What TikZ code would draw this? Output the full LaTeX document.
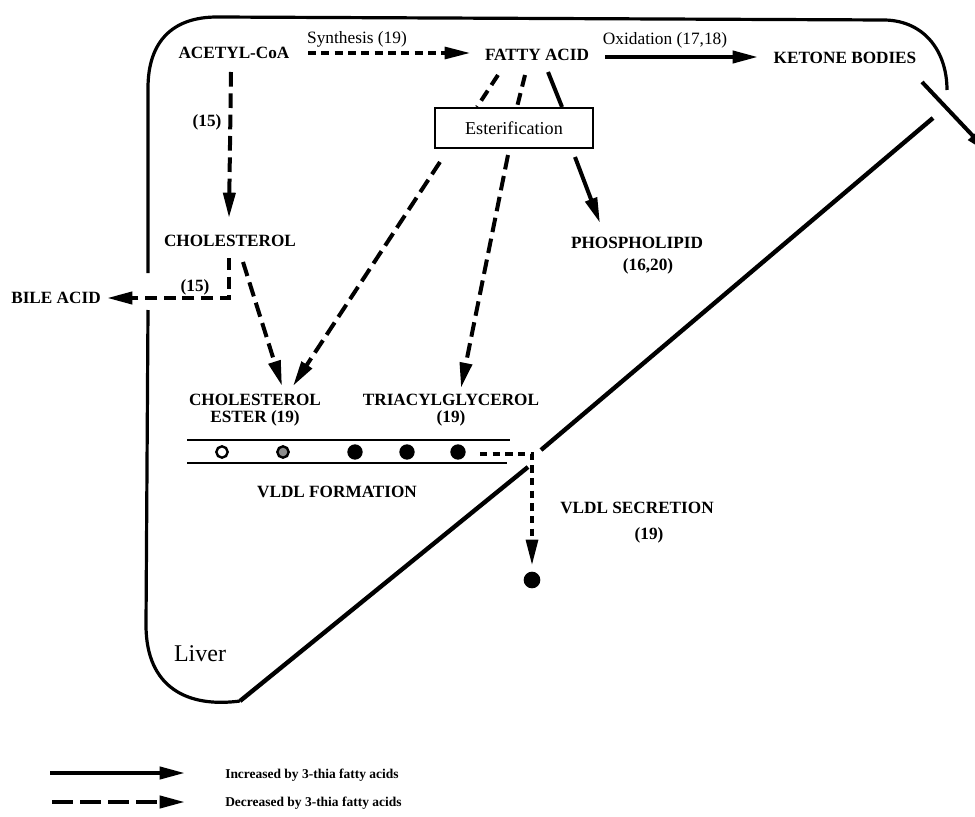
\documentclass[tikz,border=0pt]{standalone}
\usepackage{fontspec}
\setmainfont{Liberation Serif}
\usetikzlibrary{arrows.meta,calc}
\begin{document}
\begin{tikzpicture}[x=0.75pt,y=-0.75pt,
  lab/.style={font=\bfseries\fontsize{12.9}{12.75}\selectfont,inner sep=0pt},
  reg/.style={font=\fontsize{13}{13}\selectfont,inner sep=0pt},
  leg/.style={font=\bfseries\fontsize{10.1}{11}\selectfont,inner sep=0pt,anchor=west},
  outline/.style={line width=2.4pt},
  diag/.style={line width=3.3pt},
  tip/.style={-{Triangle[length=19pt,width=9pt]}},
  inc/.style={line width=3pt,tip},
  incline/.style={line width=3pt},
  dec/.style={line width=3pt,dash pattern=on 11pt off 5pt,tip},
  decline/.style={line width=3pt,dash pattern=on 9pt off 5pt},
  fine/.style={line width=2.3pt,dash pattern=on 6pt off 4pt,tip},
  vd/.style={line width=2.3pt,dash pattern=on 5.5pt off 4pt,tip},
  blob/.style={circle,fill=black,inner sep=0pt,minimum size=11.5pt}
]
\useasboundingbox (0,0) rectangle (975,817);

% liver outline
\draw[outline] (148,273) -- (148,88) .. controls (148,42) and (172,17) .. (217,17)
   -- (885,20) .. controls (925,21) and (947,52) .. (947,90);
\draw[outline] (148,310) -- (146,625) .. controls (146,688) and (188,708) .. (240,701);
\draw[diag] (240,701) -- (528,467);
\draw[diag] (541,450) -- (933,118);

% nodes
\node[lab] (acetyl) at (234,53) {ACETYL-CoA};
\node[reg] (synth) at (357,39) {Synthesis (19)};
\node[lab] (fatty) at (537,55) {FATTY ACID};
\node[reg] (oxid) at (665,40) {Oxidation (17,18)};
\node[lab] (ketone) at (845,58) {KETONE BODIES};
\node[draw,line width=1.6pt,minimum width=118pt,minimum height=30.5pt,font=\fontsize{13.6}{14}\selectfont,inner sep=0pt] (ester) at (514,128) {Esterification};
\node[lab] (l15a) at (207,122) {(15)};
\node[lab] (chol) at (230,241) {CHOLESTEROL};
\node[lab] (l15b) at (195,287) {(15)};
\node[lab] (bile) at (56,298) {BILE ACID};
\node[lab] (phos) at (637,243) {PHOSPHOLIPID};
\node[lab] (phosr) at (648,266) {(16,20)};
\node[lab,align=center] (cester) at (255,410) {CHOLESTEROL\\ESTER (19)};
\node[lab,align=center] (tag) at (451,410) {TRIACYLGLYCEROL\\(19)};
\node[lab] (vform) at (337,492) {VLDL FORMATION};
\node[lab] (vsec) at (637,508) {VLDL SECRETION};
\node[lab] (vsecr) at (649,535) {(19)};
\node[font=\fontsize{18}{20}\selectfont,inner sep=0pt] (liver) at (200,654) {Liver};

% VLDL formation particles
\draw[line width=1.8pt] (187,440) -- (510,440);
\draw[line width=1.8pt] (187,463) -- (507,463);
\node[circle,draw,line width=1.8pt,inner sep=0pt,minimum size=8.5pt] (p1) at (222,452) {};
\node[circle,draw,line width=1.8pt,fill=black!45,inner sep=0pt,minimum size=8.5pt] (p2) at (283,452) {};
\node[blob] (p3) at (355,452) {};
\node[blob] (p4) at (407,452) {};
\node[blob] (p5) at (458,452) {};
\node[blob,minimum size=12.5pt] (vdot) at (532,580) {};

% connectors
\draw[fine] ($(acetyl)+(74,0)$) -- ($(fatty)+(-67,-2)$);
\draw[inc] ($(fatty)+(68,2)$) -- ($(ketone)+(-87,-1)$);
\coordinate (out) at ($(ketone)+(145,96)$);
\draw[inc] ($(ketone)+(77,24)$) -- (out);
\draw[dec] ($(acetyl)+(-3,19)$) -- ($(chol)+(-1,-23)$);
\draw[dec,dash pattern=on 9pt off 5pt] ($(chol)+(-1,17)$) |- ($(bile)+(51,0)$);
\draw[dec] ($(chol)+(13,21)$) -- ($(cester)+(27,-24)$);
\draw[dec] ($(ester)+(-74,34)$) -- ($(cester)+(38,-24)$);
\draw[dec] ($(ester)+(-6,27)$) -- ($(tag)+(10,-22)$);
\draw[inc] ($(ester)+(61,29)$) -- ($(phos)+(-37,-20)$);
\draw[decline] ($(fatty)+(-39,20)$) -- ($(ester)+(-37,-21)$);
\draw[decline] ($(fatty)+(-12,20)$) -- ($(ester)+(3,-21)$);
\draw[incline] ($(fatty)+(11,17)$) -- ($(ester)+(48,-21)$);
\draw[vd] ($(p5)+(22,2)$) -| ($(vdot)+(0,-15)$);

% legend
\coordinate (la1) at (50,773);
\coordinate (la2) at (185,773);
\coordinate (lb1) at (52,802);
\coordinate (lb2) at (185,802);
\draw[inc] (la1) -- (la2);
\draw[dec,dash pattern=on 16pt off 5pt] (lb1) -- (lb2);
\node[leg] (legi) at (225,775) {Increased by 3-thia fatty acids};
\node[leg] (legd) at (225,803) {Decreased by 3-thia fatty acids};
\end{tikzpicture}
\end{document}
